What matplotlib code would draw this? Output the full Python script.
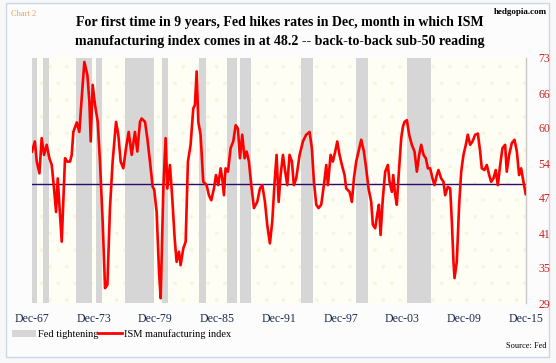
import numpy as np
import matplotlib.pyplot as plt
from matplotlib.patches import Patch, Rectangle
from matplotlib.lines import Line2D

# ISM manufacturing index (fractional year, value)
years = [1967.92, 1968.20, 1968.38, 1968.64, 1968.86, 1969.09, 1969.35, 1969.61, 1969.84,
         1970.06, 1970.26, 1970.42, 1970.58, 1970.81, 1971.13, 1971.36, 1971.62, 1971.78,
         1971.94, 1972.27, 1972.52, 1972.75, 1973.01, 1973.30, 1973.50, 1973.63, 1973.82,
         1974.05, 1974.31, 1974.53, 1974.79, 1975.02, 1975.25, 1975.50, 1975.76, 1976.09,
         1976.31, 1976.54, 1976.80, 1977.06, 1977.32, 1977.61, 1977.93, 1978.16, 1978.42,
         1978.58, 1978.91, 1979.13, 1979.39, 1979.65, 1979.80, 1980.04, 1980.27, 1980.43,
         1980.69, 1980.91, 1981.08, 1981.33, 1981.56, 1981.79, 1981.98, 1982.21, 1982.37,
         1982.63, 1982.86, 1983.08, 1983.34, 1983.60, 1983.76, 1983.93, 1984.09, 1984.31,
         1984.57, 1984.90, 1985.12, 1985.35, 1985.61, 1985.81, 1986.03, 1986.26, 1986.42,
         1986.58, 1986.74, 1986.97, 1987.23, 1987.49, 1987.72, 1987.94, 1988.14, 1988.36,
         1988.59, 1988.79, 1989.01, 1989.24, 1989.50, 1989.82, 1990.08, 1990.31, 1990.57,
         1990.79, 1991.05, 1991.28, 1991.51, 1991.70, 1991.90, 1992.09, 1992.32, 1992.54,
         1992.74, 1992.96, 1993.19, 1993.38, 1993.61, 1993.94, 1994.26, 1994.58, 1994.91,
         1995.13, 1995.33, 1995.56, 1995.78, 1996.04, 1996.30, 1996.53, 1996.69, 1996.95,
         1997.17, 1997.40, 1997.60, 1997.82, 1998.05, 1998.31, 1998.47, 1998.80, 1999.02,
         1999.22, 1999.44, 1999.67, 1999.93, 2000.19, 2000.41, 2000.64, 2000.90, 2001.06,
         2001.29, 2001.48, 2001.65, 2001.81, 2002.03, 2002.26, 2002.52, 2002.68, 2002.91,
         2003.04, 2003.23, 2003.39, 2003.59, 2003.82, 2003.98, 2004.14, 2004.37, 2004.59,
         2004.85, 2005.11, 2005.34, 2005.56, 2005.76, 2005.99, 2006.21, 2006.41, 2006.63,
         2006.86, 2007.05, 2007.28, 2007.44, 2007.70, 2007.93, 2008.09, 2008.35, 2008.58,
         2008.74, 2008.90, 2009.00, 2009.22, 2009.45, 2009.65, 2009.87, 2010.10, 2010.29,
         2010.52, 2010.75, 2011.01, 2011.27, 2011.49, 2011.65, 2011.91, 2012.14, 2012.37,
         2012.56, 2012.79, 2013.01, 2013.21, 2013.44, 2013.66, 2013.92, 2014.08, 2014.31,
         2014.57, 2014.83, 2015.06, 2015.28, 2015.48, 2015.70, 2015.92]
ism = [55.8, 57.6, 54.0, 51.9, 58.2, 55.2, 57.0, 54.6, 53.4,
       49.2, 45.0, 51.0, 46.3, 39.7, 54.6, 54.0, 54.0, 55.2,
       59.3, 61.0, 59.3, 65.3, 71.8, 69.5, 64.7, 57.6, 67.7,
       64.1, 61.1, 54.0, 43.3, 31.4, 32.0, 45.7, 54.0, 61.1,
       58.8, 54.0, 52.8, 56.4, 59.3, 55.2, 59.3, 55.8, 61.1,
       61.7, 61.1, 58.2, 54.0, 49.5, 49.0, 45.0, 34.3, 29.6,
       49.2, 58.2, 49.2, 53.4, 47.4, 40.3, 36.1, 37.9, 35.5,
       38.5, 39.7, 54.0, 57.0, 63.5, 64.1, 70.1, 61.1, 58.8,
       50.4, 49.8, 48.0, 47.1, 49.2, 51.6, 49.8, 52.8, 51.0,
       48.0, 52.8, 52.2, 56.4, 57.6, 60.5, 59.9, 54.6, 58.8,
       54.6, 55.8, 54.0, 49.8, 45.7, 46.8, 49.2, 49.8, 46.8,
       42.7, 39.4, 43.3, 50.4, 55.2, 46.8, 51.6, 55.2, 52.2,
       49.8, 55.2, 54.0, 49.8, 51.0, 55.2, 57.6, 58.8, 59.3,
       56.4, 50.4, 46.3, 45.7, 46.3, 49.8, 53.4, 49.8, 55.2,
       54.0, 55.8, 57.6, 55.2, 53.4, 51.6, 49.2, 48.6, 46.8,
       51.0, 54.0, 55.8, 57.9, 55.8, 52.8, 49.2, 46.8, 42.7,
       42.1, 44.5, 46.3, 40.9, 47.4, 52.2, 53.4, 50.4, 48.6,
       51.6, 48.0, 46.3, 52.2, 58.2, 60.2, 61.1, 61.4, 58.8,
       57.0, 55.8, 52.2, 55.2, 57.0, 55.2, 54.6, 52.8, 52.8,
       51.0, 49.8, 51.6, 52.5, 51.0, 50.4, 48.0, 49.5, 49.2,
       43.3, 36.1, 33.2, 36.1, 46.3, 52.2, 55.2, 57.0, 58.8,
       57.0, 57.6, 58.8, 59.0, 55.8, 52.8, 52.5, 53.4, 51.6,
       50.4, 51.0, 52.5, 49.8, 53.4, 56.4, 57.0, 52.2, 55.2,
       57.3, 57.9, 55.8, 51.6, 52.8, 50.4, 48.2]

# Fed tightening periods (start, end)
fed_start = [1967.92, 1968.96, 1972.17, 1974.14, 1976.96, 1980.59, 1984.15,
             1986.90, 1988.14, 1994.03, 1999.38, 2004.37]
fed_end = [1968.44, 1969.58, 1973.79, 1974.69, 1979.80, 1981.14, 1984.80,
           1987.88, 1989.24, 1995.23, 2000.58, 2006.70]

x_labels = ['Dec-67', 'Dec-73', 'Dec-79', 'Dec-85', 'Dec-91',
            'Dec-97', 'Dec-03', 'Dec-09', 'Dec-15']
y_labels = ['29', '35', '41', '47', '54', '60', '66', '73']

serif = 'Liberation Serif'
W, H = 556, 363
plt.rcParams['hatch.linewidth'] = 0.3

fig = plt.figure(figsize=(W / 100, H / 100), dpi=100)
fig.patch.set_facecolor('#f8f8f8')
fig.patches.append(Rectangle((6 / W, 1 - 357 / H), 543 / W, 354 / H,
                             transform=fig.transFigure, facecolor='#fcfcfc',
                             edgecolor='#c9d7ea', linewidth=1.0, zorder=-5))

ax = fig.add_axes([32 / W, 1 - 303 / H, 494 / W, 245 / H])
ax.set_facecolor('#fefef5')
ax.add_patch(Rectangle((0, 0), 1, 1, transform=ax.transAxes, facecolor='none',
                       edgecolor='#f6f5dd', hatch='.', linewidth=0, zorder=0))

for s, e in zip(fed_start, fed_end):
    ax.axvspan(s, e, color='#d6d6d6', lw=0, zorder=1)

ax.axhline(50, color='#2b0c6b', lw=1.0, zorder=2)
ax.plot(years, ism, color='#ff0000', lw=1.9, zorder=3, solid_joinstyle='round')

ax.set_xlim(1967.92, 2015.95)
ax.set_ylim(28.75, 72.5)

ax.set_xticks(np.linspace(1967.92, 2015.92, len(x_labels)))
ax.set_xticklabels(x_labels, fontfamily=serif, fontsize=8.5, color='#1a2a50')
ax.yaxis.tick_right()
ax.set_yticks(np.linspace(28.75, 72.5, len(y_labels)))
ax.set_yticklabels(y_labels, fontfamily=serif, fontsize=8.5, color='#d02020')
ax.tick_params(length=0, pad=9, axis='y')
ax.tick_params(length=0, pad=7, axis='x')
for side in ['left', 'top', 'bottom']:
    ax.spines[side].set_visible(False)
ax.spines['right'].set_color('#c8c8c8')
ax.spines['right'].set_linewidth(1.0)

fig.text(280 / W, 1 - 32 / H,
         'For first time in 9 years, Fed hikes rates in Dec, month in which ISM\n'
         'manufacturing index comes in at 48.2 -- back-to-back sub-50 reading',
         ha='center', va='center', fontfamily=serif, fontweight='bold',
         fontsize=10, linespacing=1.55)
fig.text(11 / W, 1 - 14 / H, 'Chart 2', fontfamily=serif, fontsize=6,
         color='#e8a060', va='center')
fig.text(547 / W, 1 - 12 / H, 'hedgopia.com', fontfamily=serif, fontsize=6.5,
         fontweight='bold', ha='right', va='center')
fig.text(547 / W, 1 - 346 / H, 'Source: Fed', fontfamily=serif, fontsize=6,
         ha='right', va='center')

handles = [Patch(facecolor='#d6d6d6', edgecolor='none'),
           Line2D([0], [0], color='#ff0000', lw=2)]
fig.legend(handles, ['Fed tightening', 'ISM manufacturing index'],
           loc='center left', bbox_to_anchor=(12 / W, 1 - 334 / H), ncol=2,
           frameon=False, prop={'family': serif, 'size': 7.5},
           handlelength=2.3, handletextpad=0.15, columnspacing=0.0,
           borderaxespad=0, borderpad=0)

fig.savefig('out.png', dpi=100, facecolor=fig.get_facecolor())
